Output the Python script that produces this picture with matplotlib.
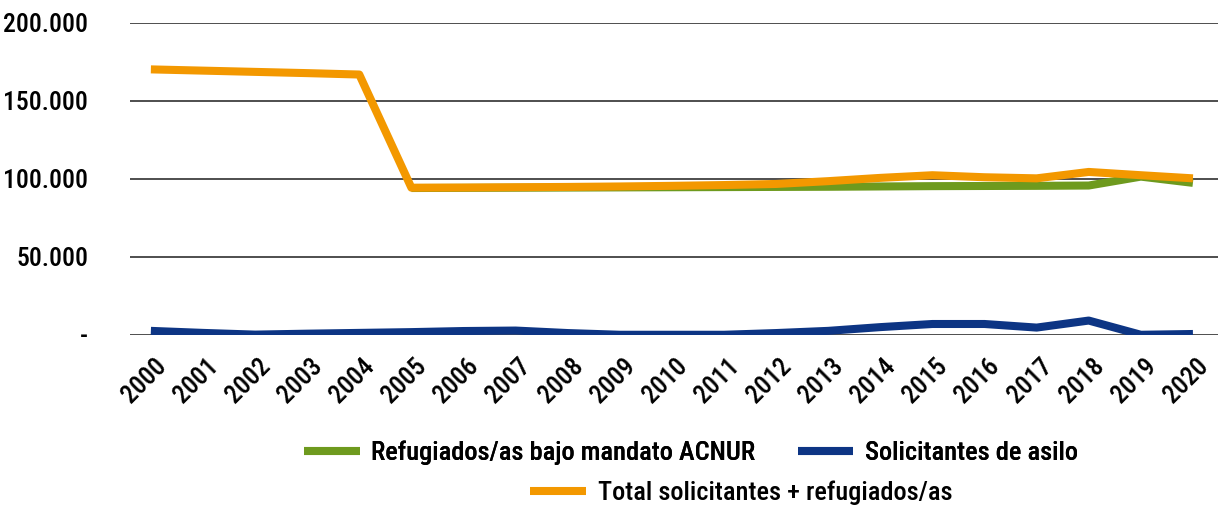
import matplotlib
matplotlib.use("Agg")
import matplotlib.pyplot as plt
import matplotlib.transforms as mtransforms
from matplotlib import font_manager
import numpy as np

years = list(range(2000, 2021))
refugiados = [np.nan, np.nan, np.nan, np.nan, np.nan,
              94100, 94200, 94300, 94400, 94500, 94600, 94700, 94800,
              94900, 95100, 95300, 95400, 95500, 95700, 101400, 97400]
solicitantes = [2600, 1300, 200, 800, 1300, 1800, 2500, 2800, 1200, 100, 100,
                100, 1200, 2600, 5000, 7000, 7000, 4700, 9200, 100, 600]
total = [170100, 169300, 168500, 167700, 166800, 94300, 94400, 94600, 94800,
         95100, 95500, 96000, 96700, 98500, 100600, 102300, 101000, 100300,
         104400, 102300, 100300]

y_ticks = [0, 50000, 100000, 150000, 200000]
y_labels = ["-", "50.000", "100.000", "150.000", "200.000"]
x_labels = [str(y) for y in years]

labels = ["Refugiados/as bajo mandato ACNUR", "Solicitantes de asilo",
          "Total solicitantes + refugiados/as"]
colors = ["#6E9A1E", "#0D3584", "#F39800"]

available = {f.name for f in font_manager.fontManager.ttflist}
family = "DejaVu Sans"
for cand in ["Roboto Condensed", "Liberation Sans Narrow", "Open Sans Condensed", "Roboto"]:
    if cand in available:
        family = cand
        break
plt.rcParams['font.family'] = [family, 'DejaVu Sans']
weight = 'medium'

fig = plt.figure(figsize=(12.21, 5.09), dpi=100)
ax = fig.add_axes([0.1065, 0.342, 0.891, 0.6134])

lw = 5.8
l1, = ax.plot(years, refugiados, color=colors[0], lw=lw, solid_capstyle='butt', zorder=3)
l2, = ax.plot(years, solicitantes, color=colors[1], lw=lw, solid_capstyle='butt', zorder=3)
l3, = ax.plot(years, total, color=colors[2], lw=lw, solid_capstyle='butt', zorder=4)

ax.set_ylim(0, 200000)
ax.set_xlim(1999.6, 2020.48)
ax.set_yticks(y_ticks)
ax.set_yticklabels(y_labels, fontsize=18.5, fontweight=weight)
ax.set_xticks(years)
ax.set_xticklabels(x_labels, fontsize=18.5, fontweight=weight, rotation=45, ha='right')
ax.tick_params(axis='both', length=0)
ax.tick_params(axis='y', pad=30)
ax.tick_params(axis='x', pad=14)
offset = mtransforms.ScaledTranslation(0.2, 0, fig.dpi_scale_trans)
for lab in ax.get_xticklabels():
    lab.set_transform(lab.get_transform() + offset)
for s in ax.spines.values():
    s.set_visible(False)
ax.yaxis.grid(True, color='#404040', lw=1.3)
ax.set_axisbelow(True)

prop = {'size': 19, 'weight': weight}
leg1 = fig.legend([l1, l2], labels[:2], ncol=2, loc='center',
                  bbox_to_anchor=(0.566, 0.110), frameon=False,
                  prop=prop, handlelength=2.1,
                  handletextpad=0.45, columnspacing=1.6, borderpad=0)
leg2 = fig.legend([l3], labels[2:], loc='center',
                  bbox_to_anchor=(0.607, 0.031), frameon=False,
                  prop=prop, handlelength=2.1,
                  handletextpad=0.45, borderpad=0)
fig.add_artist(leg1)

fig.savefig("out.png", dpi=100)
